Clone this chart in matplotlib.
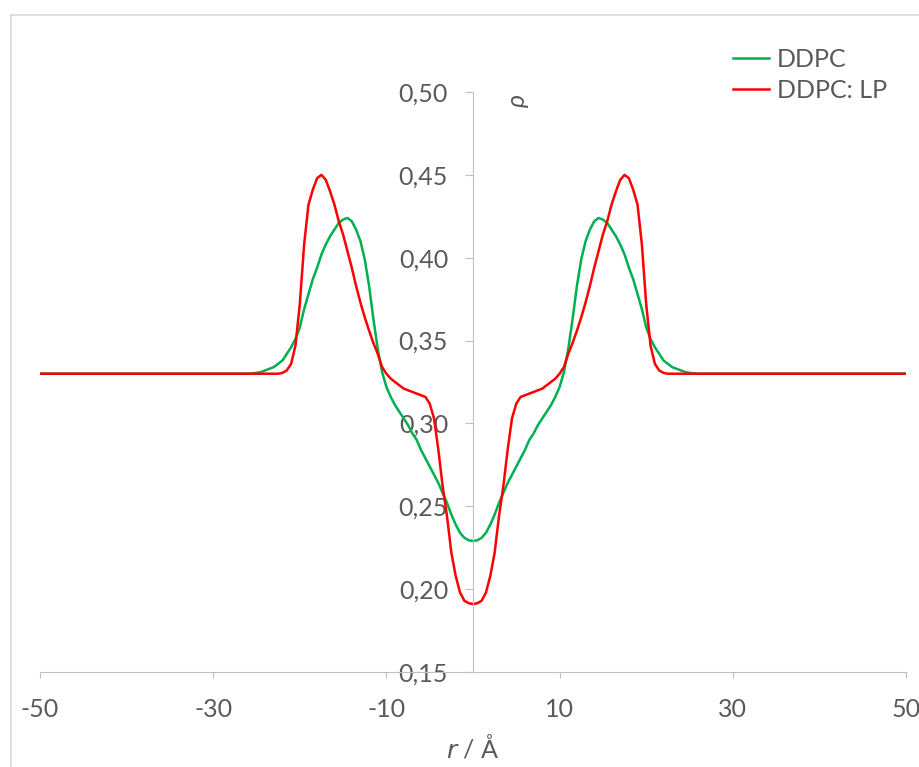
import matplotlib
matplotlib.use("Agg")
import matplotlib.pyplot as plt
from matplotlib.lines import Line2D
from matplotlib.ticker import FuncFormatter

# r / Angstrom
r = [-50, -30, -26, -25, -24.5, -24, -23.5, -23, -22.5, -22, -21.5, -21, -20.5, -20,
     -19.5, -19, -18.5, -18, -17.5, -17, -16.5, -16, -15.5, -15, -14.5, -14,
     -13.5, -13, -12.5, -12, -11.5, -11, -10.5, -10, -9.5, -9, -8.5, -8,
     -7.5, -7, -6.5, -6, -5.5, -5, -4.5, -4, -3.5, -3, -2.5, -2, -1.5, -1,
     -0.5, 0, 0.5, 1, 1.5, 2, 2.5, 3, 3.5, 4, 4.5, 5, 5.5, 6, 6.5, 7, 7.5,
     8, 8.5, 9, 9.5, 10, 10.5, 11, 11.5, 12, 12.5, 13, 13.5, 14, 14.5, 15,
     15.5, 16, 16.5, 17, 17.5, 18, 18.5, 19, 19.5, 20, 20.5, 21, 21.5, 22,
     22.5, 23, 23.5, 24, 24.5, 25, 26, 30, 50]

ddpc = [0.330, 0.330, 0.330, 0.3305, 0.331, 0.332, 0.333, 0.334, 0.336, 0.338,
        0.342, 0.346, 0.351, 0.358, 0.369, 0.378, 0.387, 0.394, 0.402, 0.408,
        0.413, 0.417, 0.421, 0.423, 0.424, 0.422, 0.417, 0.410, 0.399, 0.383,
        0.363, 0.345, 0.331, 0.322, 0.316, 0.311, 0.307, 0.303, 0.299, 0.294,
        0.290, 0.284, 0.279, 0.274, 0.269, 0.264, 0.258, 0.252, 0.245, 0.239,
        0.234, 0.231, 0.2295, 0.229, 0.2295, 0.231, 0.234, 0.239, 0.245, 0.252,
        0.258, 0.264, 0.269, 0.274, 0.279, 0.284, 0.290, 0.294, 0.299, 0.303,
        0.307, 0.311, 0.316, 0.322, 0.331, 0.345, 0.363, 0.383, 0.399, 0.410,
        0.417, 0.422, 0.424, 0.423, 0.421, 0.417, 0.413, 0.408, 0.402, 0.394,
        0.387, 0.378, 0.369, 0.358, 0.351, 0.346, 0.342, 0.338, 0.336, 0.334,
        0.333, 0.332, 0.331, 0.3305, 0.330, 0.330, 0.330]

ddpc_lp = [0.330, 0.330, 0.330, 0.330, 0.330, 0.330, 0.330, 0.330, 0.330, 0.3305,
           0.332, 0.336, 0.347, 0.372, 0.408, 0.432, 0.441, 0.448, 0.450, 0.447,
           0.440, 0.432, 0.422, 0.414, 0.404, 0.394, 0.383, 0.373, 0.364, 0.356,
           0.3485, 0.342, 0.334, 0.330, 0.327, 0.325, 0.323, 0.321, 0.320, 0.319,
           0.318, 0.317, 0.316, 0.312, 0.303, 0.284, 0.262, 0.244, 0.222, 0.208,
           0.198, 0.193, 0.1915, 0.191, 0.1915, 0.193, 0.198, 0.208, 0.222, 0.244,
           0.262, 0.284, 0.303, 0.312, 0.316, 0.317, 0.318, 0.319, 0.320, 0.321,
           0.323, 0.325, 0.327, 0.330, 0.334, 0.342, 0.3485, 0.356, 0.364, 0.373,
           0.383, 0.394, 0.404, 0.414, 0.422, 0.432, 0.440, 0.447, 0.450, 0.448,
           0.441, 0.432, 0.408, 0.372, 0.347, 0.336, 0.332, 0.3305, 0.330, 0.330,
           0.330, 0.330, 0.330, 0.330, 0.330, 0.330, 0.330]

x_ticks = [-50, -30, -10, 10, 30, 50]
y_ticks = [0.15, 0.20, 0.25, 0.30, 0.35, 0.40, 0.45, 0.50]

plt.rcParams['font.family'] = ['Lato', 'DejaVu Sans']
plt.rcParams['axes.unicode_minus'] = False
txt = '#595959'
grey = '#bfbfbf'
fs = 18

fig = plt.figure(figsize=(9.19, 7.67), dpi=100)
ax = fig.add_axes([40 / 919, 95 / 767, 866 / 919, 580 / 767])

ax.plot(r, ddpc, color='#00b050', lw=1.8, label='DDPC', solid_joinstyle='round')
ax.plot(r, ddpc_lp, color='#ff0000', lw=1.8, label='DDPC: LP', solid_joinstyle='round')

ax.set_xlim(-50, 50)
ax.set_ylim(0.15, 0.50)
ax.set_xticks(x_ticks)
ax.set_yticks(y_ticks)
ax.yaxis.set_major_formatter(FuncFormatter(lambda v, p: f'{v:.2f}'.replace('.', ',')))

for s in ['top', 'right']:
    ax.spines[s].set_visible(False)
ax.spines['left'].set_position(('data', 0))
ax.spines['left'].set_color(grey)
ax.spines['bottom'].set_color(grey)
ax.tick_params(axis='x', direction='out', length=4.5, color=grey, labelcolor=txt,
               labelsize=fs, pad=14)
ax.tick_params(axis='y', direction='out', length=6, color=grey, labelcolor=txt,
               labelsize=fs, pad=12)

ax.text(5.1, 0.495, 'ρ', rotation=90, fontsize=fs, style='italic', color=txt,
        ha='center', va='center')
ax.text(0, -0.13, '$\\it{r}$ / Å', transform=ax.get_xaxis_transform(), fontsize=fs,
        color=txt, ha='center', va='center')

ax.legend(loc='upper left', bbox_to_anchor=(733 / 919, 1 - 48 / 767),
          bbox_transform=fig.transFigure, frameon=False, fontsize=fs,
          labelcolor=txt, handlelength=1.45, handletextpad=0.3, labelspacing=0.32,
          borderpad=0, borderaxespad=0)

# chart area border
fig.add_artist(Line2D([11 / 919, 1.0], [1 - 15 / 767, 1 - 15 / 767], color='#d9d9d9', lw=1.2))
fig.add_artist(Line2D([11 / 919, 11 / 919], [0, 1 - 15 / 767], color='#d9d9d9', lw=1.2))

fig.savefig('out.png', dpi=100)
